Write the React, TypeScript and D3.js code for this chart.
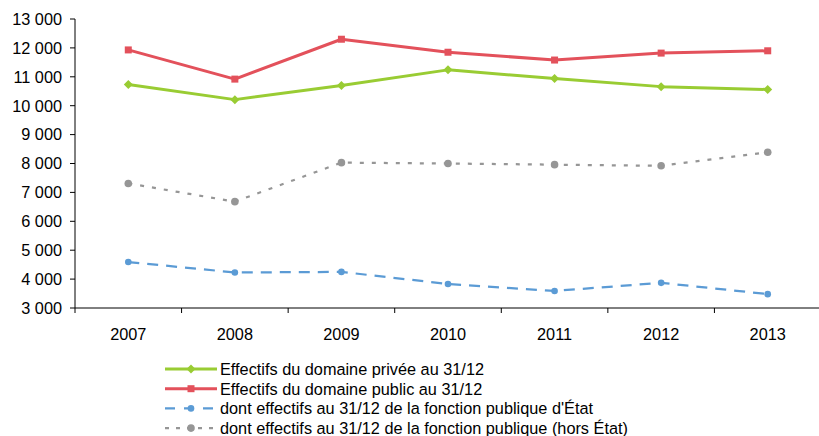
import React from "react";
import * as d3 from "d3";

const years = ["2007", "2008", "2009", "2010", "2011", "2012", "2013"];
const priveeValues = [10730, 10210, 10700, 11240, 10940, 10660, 10560];
const publicValues = [11930, 10920, 12300, 11850, 11580, 11820, 11900];
const etatValues = [4590, 4230, 4250, 3830, 3590, 3870, 3480];
const horsEtatValues = [7310, 6680, 8030, 8000, 7960, 7920, 8390];
const yTicks = [3000, 4000, 5000, 6000, 7000, 8000, 9000, 10000, 11000, 12000, 13000];

const seriesNames = [
  "Effectifs du domaine privée au 31/12",
  "Effectifs du domaine public au 31/12",
  "dont effectifs au 31/12 de la fonction publique d'État",
  "dont effectifs au 31/12 de la fonction publique (hors État)",
];

type Marker = "diamond" | "square" | "circle";
interface Series {
  name: string;
  values: number[];
  color: string;
  width: number;
  dash?: string;
  marker: Marker;
  markerSize: number;
}

const series: Series[] = [
  { name: seriesNames[0], values: priveeValues, color: "#99CC33", width: 3, marker: "diamond", markerSize: 4.5 },
  { name: seriesNames[1], values: publicValues, color: "#E3515B", width: 3, marker: "square", markerSize: 7 },
  { name: seriesNames[2], values: etatValues, color: "#5B9BD5", width: 2.25, dash: "11,8", marker: "circle", markerSize: 3.3 },
  { name: seriesNames[3], values: horsEtatValues, color: "#969696", width: 2.25, dash: "4,8", marker: "circle", markerSize: 3.8 },
];

const W = 819;
const H = 436;
const left = 75;
const right = 821;
const top = 19;
const bottom = 308;
const font = "'Liberation Sans', Arial, sans-serif";

function MarkerShape({ kind, size, x, y, color }: { kind: Marker; size: number; x: number; y: number; color: string }) {
  if (kind === "square") {
    return <rect x={x - size / 2} y={y - size / 2} width={size} height={size} fill={color} />;
  }
  if (kind === "diamond") {
    const p = d3.path();
    p.moveTo(x, y - size);
    p.lineTo(x + size, y);
    p.lineTo(x, y + size);
    p.lineTo(x - size, y);
    p.closePath();
    return <path d={p.toString()} fill={color} />;
  }
  return <circle cx={x} cy={y} r={size} fill={color} />;
}

export default function App() {
  const x = d3.scaleBand<string>().domain(years).range([left, right]);
  const y = d3.scaleLinear().domain([3000, 13000]).range([bottom, top]);
  const fmt = (v: number) => d3.format(",")(v).replace(/,/g, " ");
  const cx = (yr: string) => (x(yr) ?? 0) + x.bandwidth() / 2;

  const line = d3
    .line<number>()
    .x((_, i) => cx(years[i]))
    .y((v) => y(v));

  const legendX0 = 165;
  const legendX1 = 217;
  const legendY0 = 369;
  const legendStep = 19.7;

  return (
    <svg
      width={W}
      height={H}
      style={{ position: "absolute", left: 0, top: 0, background: "#fff" }}
      fontFamily={font}
    >
      {/* y axis */}
      <line x1={left} x2={left} y1={top} y2={bottom} stroke="#000" strokeWidth={1} />
      {yTicks.map((t) => (
        <g key={t}>
          <line x1={left - 5} x2={left} y1={y(t)} y2={y(t)} stroke="#000" />
          <text x={62} y={y(t)} dy="0.36em" textAnchor="end" fontSize={16.3} fill="#000">
            {fmt(t)}
          </text>
        </g>
      ))}
      {/* x axis */}
      <line x1={left} x2={right} y1={bottom} y2={bottom} stroke="#000" strokeWidth={1} />
      {years.map((yr) => (
        <line key={"t" + yr} x1={x(yr)} x2={x(yr)} y1={bottom} y2={bottom + 5} stroke="#000" />
      ))}
      {years.map((yr) => (
        <text key={"l" + yr} x={cx(yr)} y={340} textAnchor="middle" fontSize={16.3} fill="#000">
          {yr}
        </text>
      ))}
      {/* series */}
      {series.map((s) => (
        <g key={s.name}>
          <path
            d={line(s.values) ?? ""}
            fill="none"
            stroke={s.color}
            strokeWidth={s.width}
            strokeDasharray={s.dash}
            strokeLinejoin="round"
          />
          {s.values.map((v, i) => (
            <MarkerShape key={i} kind={s.marker} size={s.markerSize} x={cx(years[i])} y={y(v)} color={s.color} />
          ))}
        </g>
      ))}
      {/* legend */}
      {series.map((s, i) => {
        const ly = legendY0 + i * legendStep;
        const mid = (legendX0 + legendX1) / 2;
        return (
          <g key={"lg" + s.name}>
            <line
              x1={legendX0}
              x2={legendX1}
              y1={ly}
              y2={ly}
              stroke={s.color}
              strokeWidth={s.width}
              strokeDasharray={s.dash ? (s.marker === "circle" && s.dash.startsWith("4") ? "4,7" : "10,9") : undefined}
            />
            <MarkerShape kind={s.marker} size={s.marker === "square" ? 7 : s.markerSize} x={mid} y={ly} color={s.color} />
            <text x={220} y={ly} dy="0.36em" fontSize={16.3} fill="#000">
              {s.name}
            </text>
          </g>
        );
      })}
    </svg>
  );
}
